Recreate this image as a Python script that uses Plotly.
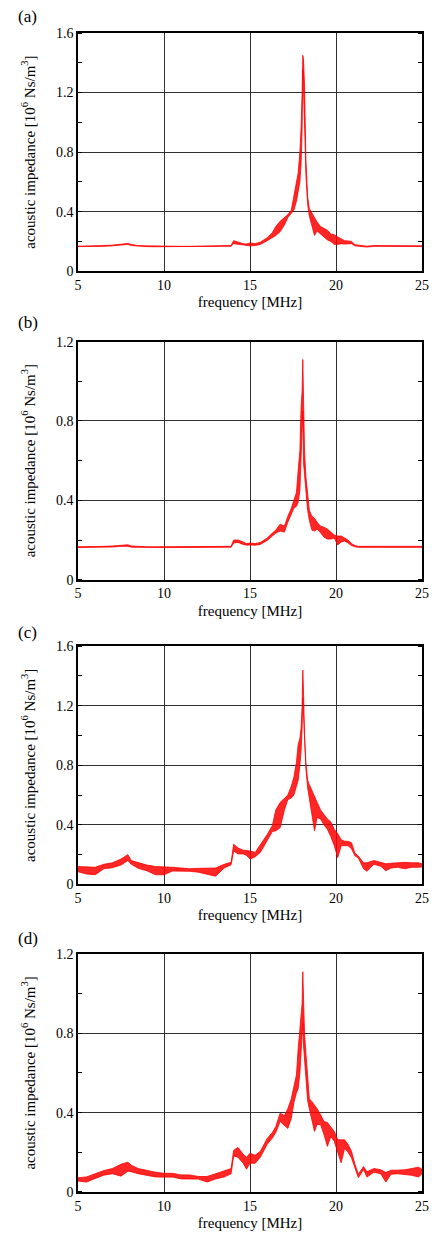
import plotly.graph_objects as go
from plotly.subplots import make_subplots

# frequency grid [MHz] shared by the four measurements
freq = [5.0, 5.5, 6.0, 6.5, 7.0, 7.5, 7.9, 8.1, 8.5, 9.0,
        9.5, 10.0, 10.5, 11.0, 11.5, 12.0, 12.5, 13.0, 13.5, 13.9,
        14.05, 14.3, 14.6, 14.8, 15.0, 15.3, 15.6, 16.0, 16.3, 16.5,
        16.75, 17.0, 17.2, 17.4, 17.55, 17.7, 17.8, 17.9, 17.97, 18.03,
        18.07, 18.11, 18.17, 18.25, 18.35, 18.45, 18.6, 18.75, 18.9, 19.1,
        19.3, 19.5, 19.7, 19.9, 20.1, 20.3, 20.5, 20.7, 20.9, 21.1,
        21.3, 21.6, 21.8, 22.2, 22.6, 22.9, 23.2, 23.6, 24.0, 24.4,
        24.8, 25.0]

# upper / lower envelope of the (noisy) impedance curves [10^6 Ns/m^3]
a_hi = [0.168, 0.168, 0.169, 0.172, 0.175, 0.180, 0.186, 0.180, 0.172, 0.170,
        0.168, 0.168, 0.167, 0.167, 0.167, 0.167, 0.168, 0.168, 0.170, 0.172,
        0.205, 0.195, 0.185, 0.182, 0.190, 0.185, 0.195, 0.225, 0.260, 0.300,
        0.335, 0.360, 0.380, 0.410, 0.500, 0.600, 0.660, 0.800, 0.960, 1.200,
        1.450, 1.420, 1.250, 0.750, 0.500, 0.420, 0.390, 0.350, 0.330, 0.300,
        0.290, 0.275, 0.250, 0.245, 0.230, 0.215, 0.205, 0.203, 0.200, 0.178,
        0.174, 0.170, 0.168, 0.172, 0.172, 0.170, 0.170, 0.170, 0.170, 0.170,
        0.170, 0.170]
a_lo = [0.165, 0.164, 0.165, 0.167, 0.170, 0.175, 0.180, 0.172, 0.167, 0.165,
        0.164, 0.164, 0.163, 0.163, 0.163, 0.163, 0.164, 0.164, 0.166, 0.168,
        0.185, 0.182, 0.176, 0.172, 0.170, 0.172, 0.180, 0.205, 0.225, 0.240,
        0.265, 0.310, 0.360, 0.390, 0.410, 0.470, 0.530, 0.600, 0.720, 0.950,
        1.350, 1.250, 1.000, 0.650, 0.450, 0.370, 0.300, 0.240, 0.270, 0.250,
        0.230, 0.210, 0.200, 0.180, 0.180, 0.185, 0.182, 0.185, 0.185, 0.170,
        0.168, 0.164, 0.162, 0.167, 0.167, 0.166, 0.166, 0.166, 0.166, 0.166,
        0.166, 0.166]

b_hi = [0.166, 0.166, 0.167, 0.168, 0.170, 0.175, 0.176, 0.170, 0.167, 0.166,
        0.166, 0.166, 0.166, 0.166, 0.166, 0.166, 0.166, 0.166, 0.166, 0.168,
        0.200, 0.200, 0.190, 0.182, 0.185, 0.182, 0.188, 0.210, 0.235, 0.250,
        0.280, 0.270, 0.320, 0.360, 0.400, 0.440, 0.550, 0.650, 0.870, 0.950,
        1.110, 0.800, 0.650, 0.520, 0.420, 0.350, 0.320, 0.310, 0.290, 0.270,
        0.265, 0.255, 0.240, 0.225, 0.220, 0.220, 0.210, 0.200, 0.182, 0.172,
        0.168, 0.168, 0.167, 0.168, 0.168, 0.168, 0.168, 0.168, 0.168, 0.168,
        0.168, 0.168]
b_lo = [0.162, 0.162, 0.163, 0.164, 0.165, 0.168, 0.168, 0.164, 0.163, 0.162,
        0.162, 0.162, 0.162, 0.162, 0.162, 0.162, 0.162, 0.162, 0.162, 0.164,
        0.185, 0.188, 0.178, 0.174, 0.175, 0.174, 0.178, 0.198, 0.220, 0.235,
        0.245, 0.240, 0.290, 0.330, 0.360, 0.370, 0.390, 0.450, 0.640, 0.700,
        0.850, 0.590, 0.520, 0.420, 0.350, 0.300, 0.250, 0.245, 0.255, 0.237,
        0.215, 0.205, 0.205, 0.210, 0.175, 0.190, 0.195, 0.185, 0.172, 0.166,
        0.163, 0.163, 0.162, 0.163, 0.163, 0.163, 0.163, 0.163, 0.163, 0.163,
        0.163, 0.163]

c_hi = [0.120, 0.115, 0.115, 0.135, 0.145, 0.170, 0.200, 0.160, 0.145, 0.130,
        0.120, 0.115, 0.115, 0.110, 0.105, 0.108, 0.108, 0.110, 0.135, 0.148,
        0.270, 0.245, 0.230, 0.228, 0.225, 0.215, 0.265, 0.335, 0.395, 0.500,
        0.550, 0.575, 0.600, 0.660, 0.720, 0.820, 0.940, 0.980, 1.050, 1.200,
        1.440, 1.300, 1.000, 0.820, 0.700, 0.670, 0.630, 0.600, 0.560, 0.500,
        0.470, 0.440, 0.420, 0.370, 0.340, 0.300, 0.290, 0.290, 0.280, 0.210,
        0.190, 0.145, 0.145, 0.160, 0.148, 0.138, 0.142, 0.145, 0.148, 0.145,
        0.145, 0.138]
c_lo = [0.085, 0.070, 0.065, 0.105, 0.112, 0.130, 0.160, 0.135, 0.108, 0.092,
        0.065, 0.065, 0.090, 0.090, 0.088, 0.082, 0.070, 0.055, 0.110, 0.132,
        0.225, 0.205, 0.205, 0.195, 0.170, 0.185, 0.215, 0.295, 0.355, 0.360,
        0.380, 0.500, 0.570, 0.580, 0.600, 0.660, 0.700, 0.800, 0.900, 1.050,
        1.250, 1.150, 0.950, 0.780, 0.650, 0.580, 0.450, 0.360, 0.450, 0.440,
        0.400, 0.370, 0.320, 0.260, 0.180, 0.260, 0.260, 0.260, 0.240, 0.192,
        0.178, 0.105, 0.088, 0.135, 0.122, 0.092, 0.110, 0.115, 0.105, 0.115,
        0.115, 0.118]

d_hi = [0.072, 0.076, 0.092, 0.108, 0.118, 0.140, 0.150, 0.135, 0.118, 0.108,
        0.100, 0.094, 0.094, 0.086, 0.086, 0.078, 0.078, 0.092, 0.108, 0.118,
        0.210, 0.225, 0.190, 0.175, 0.195, 0.185, 0.205, 0.270, 0.300, 0.330,
        0.397, 0.385, 0.420, 0.470, 0.530, 0.590, 0.720, 0.840, 0.900, 0.950,
        1.110, 0.890, 0.800, 0.700, 0.570, 0.470, 0.455, 0.440, 0.420, 0.390,
        0.355, 0.350, 0.330, 0.305, 0.263, 0.263, 0.263, 0.240, 0.205, 0.140,
        0.090, 0.128, 0.102, 0.118, 0.112, 0.098, 0.110, 0.110, 0.112, 0.118,
        0.125, 0.115]
d_lo = [0.055, 0.050, 0.068, 0.085, 0.092, 0.080, 0.105, 0.102, 0.092, 0.085,
        0.076, 0.075, 0.075, 0.066, 0.066, 0.065, 0.050, 0.066, 0.076, 0.092,
        0.182, 0.175, 0.145, 0.115, 0.145, 0.145, 0.175, 0.240, 0.272, 0.300,
        0.355, 0.338, 0.320, 0.370, 0.450, 0.500, 0.520, 0.600, 0.700, 0.790,
        0.850, 0.740, 0.660, 0.600, 0.460, 0.420, 0.370, 0.305, 0.340, 0.340,
        0.290, 0.230, 0.280, 0.255, 0.200, 0.147, 0.220, 0.200, 0.172, 0.122,
        0.072, 0.113, 0.075, 0.100, 0.092, 0.050, 0.090, 0.092, 0.088, 0.084,
        0.076, 0.092]

panel_labels = ["(a)", "(b)", "(c)", "(d)"]
panels = [(a_lo, a_hi), (b_lo, b_hi), (c_lo, c_hi), (d_lo, d_hi)]
y_top = [1.6, 1.2, 1.6, 1.2]
y_ticks = {1.6: [0, 0.4, 0.8, 1.2, 1.6], 1.2: [0, 0.4, 0.8, 1.2]}
y_ticktext = {1.6: ["0", "0.4", "0.8", "1.2", "1.6"], 1.2: ["0", "0.4", "0.8", "1.2"]}
x_ticks = [5, 10, 15, 20, 25]
x_ticktext = ["5", "10", "15", "20", "25"]

FONT = "Liberation Serif"
RED = "#ff0000"

fig = make_subplots(rows=4, cols=1)

for i, (lo, hi) in enumerate(panels):
    row = i + 1
    fig.add_trace(go.Scatter(x=freq, y=lo, mode="lines",
                             line=dict(color=RED, width=0.8)), row=row, col=1)
    fig.add_trace(go.Scatter(x=freq, y=hi, mode="lines", fill="tonexty",
                             fillcolor="rgba(255,0,0,0.85)",
                             line=dict(color=RED, width=0.8)),
                  row=row, col=1)

# panel placement (paper fractions)
domains = [[0.7945, 1.0], [0.5283, 0.7337], [0.2654, 0.4709], [0.0, 0.2055]]
label_y = [1.0145, 0.7500, 0.4828, 0.2191]

for i in range(4):
    row = i + 1
    top = y_top[i]
    fig.update_xaxes(row=row, col=1, range=[5, 25], tickvals=x_ticks,
                     ticktext=x_ticktext, ticks="", showgrid=True,
                     gridcolor="#303030", gridwidth=1, zeroline=False,
                     showline=True, linecolor="black", linewidth=1.5,
                     mirror=True, tickfont=dict(family=FONT, size=14, color="black"),
                     title=dict(text="frequency [MHz]", standoff=5,
                                font=dict(family=FONT, size=15, color="black")))
    fig.update_yaxes(row=row, col=1, range=[0, top], domain=domains[i],
                     tickvals=y_ticks[top], ticktext=y_ticktext[top], ticks="",
                     showgrid=True, gridcolor="#303030", gridwidth=1,
                     zeroline=False, showline=True, linecolor="black",
                     linewidth=1.5, mirror="ticks",
                     minor=dict(dtick=0.2, tick0=0.2, ticks="inside", ticklen=4,
                                tickcolor="black", showgrid=False),
                     tickfont=dict(family=FONT, size=14, color="black"),
                     title=dict(text="acoustic impedance [10<sup>6</sup> Ns/m<sup>3</sup>]",
                                standoff=17,
                                font=dict(family=FONT, size=15, color="black")))
    fig.add_annotation(text=panel_labels[i], xref="paper", yref="paper",
                       x=-0.18, y=label_y[i], xanchor="left", yanchor="middle",
                       showarrow=False, font=dict(family=FONT, size=17, color="black"))

fig.update_layout(width=441, height=1241, showlegend=False,
                  margin=dict(l=78, r=13, t=33, b=40),
                  paper_bgcolor="white", plot_bgcolor="white")

fig.write_html("out.html", config={"displayModeBar": False},
               post_script="document.body.style.margin='0';"
                           "document.body.style.overflow='hidden';")
